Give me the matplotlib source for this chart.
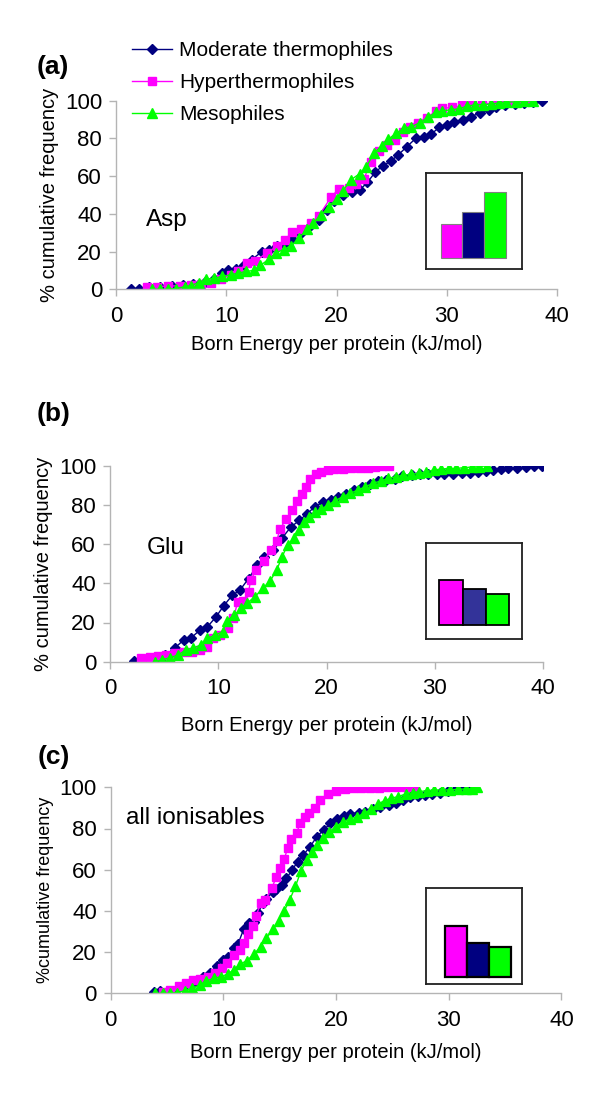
import matplotlib
matplotlib.use('Agg')
import matplotlib.pyplot as plt
import numpy as np

plt.rcParams['font.family'] = ['Liberation Sans', 'DejaVu Sans']

navy = '#000080'
magenta = '#FF00FF'
green = '#00FF00'
gray = '#B4B4B4'

labels = ['Moderate thermophiles', 'Hyperthermophiles', 'Mesophiles']

# ---- panel (a) Asp ----
a_mod_x = [1.4, 2.1, 3.0, 4.0, 5.1, 6.1, 7.0, 8.1, 8.9, 9.6, 10.2, 10.9, 11.6, 12.3, 13.2, 13.9, 14.6, 15.3, 16.0, 16.8,
           17.7, 18.4, 19.1, 19.8, 20.6, 21.4, 22.1, 22.8, 23.5, 24.2, 24.9, 25.6, 26.4, 27.2, 27.9, 28.6, 29.3, 30.0,
           30.7, 31.5, 32.2, 33.0, 33.8, 34.5, 35.3, 36.2, 37.0, 37.8, 38.6]
a_mod_y = [0.4, 0.4, 1.0, 1.4, 2.0, 2.3, 2.9, 4.0, 5.7, 8.6, 10.4, 11.0, 13.0, 15.7, 19.8, 21.0, 23.0, 23.7, 26.8, 30.0,
           34.0, 37.0, 42.0, 47.0, 50.0, 51.8, 52.6, 56.7, 62.0, 65.5, 67.8, 71.3, 75.7, 80.1, 80.7, 82.3, 85.8, 87.2,
           88.6, 89.9, 91.6, 93.4, 95.2, 96.5, 97.5, 98.2, 98.9, 99.5, 100]
a_hyp_x = [2.8, 3.7, 4.7, 5.8, 6.8, 7.7, 8.6, 9.5, 10.4, 11.1, 11.9, 12.6, 13.7, 14.6, 15.3, 16.0, 16.8, 17.7, 18.4, 19.5,
           20.2, 21.1, 21.8, 22.5, 23.1, 23.9, 24.6, 25.3, 26.0, 26.7, 27.4, 28.2, 29.0, 29.6, 30.5, 31.4, 32.3, 33.2,
           34.2, 35.1, 36.0, 36.8, 37.5]
a_hyp_y = [1, 1.4, 1.8, 1.8, 2.3, 3.0, 3.6, 5.4, 7.7, 9.5, 14.0, 14.8, 19.3, 22.9, 26.0, 30.5, 31.8, 35.4, 39.0, 48.8,
           53.2, 53.6, 55.9, 58.6, 67.5, 73.2, 76.4, 79.1, 83.6, 86.3, 88.0, 91.0, 94.3, 96.0, 96.4, 97.5, 98.2, 98.2,
           98.8, 99.3, 99.6, 100, 100]
a_mes_x = [3.3, 4.0, 4.7, 5.4, 6.3, 6.8, 7.5, 8.2, 8.9, 9.6, 10.4, 11.1, 11.8, 12.5, 13.1, 13.9, 14.5, 15.2, 15.9, 16.6,
           17.3, 17.9, 18.6, 19.3, 20.0, 20.6, 21.3, 22.1, 22.7, 23.4, 24.1, 24.7, 25.4, 26.1, 26.8, 27.6, 28.3, 29.0,
           29.6, 30.4, 31.1, 31.8, 32.6, 33.3, 34.0, 34.7, 35.4, 36.3, 37.0, 37.8]
a_mes_y = [0, 0, 0, 0.4, 1.4, 2.0, 3.6, 5.4, 5.9, 6.8, 7.7, 8.6, 9.5, 10.0, 12.7, 16.1, 19.3, 21.1, 23.2, 27.0,
           31.8, 35.4, 39.3, 43.9, 47.9, 52.3, 58.0, 61.3, 64.8, 72.3, 75.9, 79.5, 82.7, 85.4, 86.3, 88.4, 91.3, 93.8,
           94.6, 95.2, 95.7, 97.0, 97.9, 97.9, 98.2, 98.8, 99.3, 99.3, 99.6, 100]
a_inset = [33.3, 45.2, 65.2]

# ---- panel (b) Glu ----
b_mod_x = [2.2, 2.9, 3.6, 4.3, 5.1, 6.0, 6.8, 7.5, 8.3, 9.0, 9.8, 10.5, 11.3, 12.0, 12.8, 13.6, 14.2, 15.1, 15.9, 16.7,
           17.5, 18.2, 18.9, 19.7, 20.4, 21.1, 21.8, 22.5, 23.3, 24.0, 24.8, 25.5, 26.3, 27.0, 27.9, 28.6, 29.4, 30.2,
           30.9, 31.7, 32.5, 33.3, 34.0, 34.7, 35.4, 36.1, 36.8, 37.6, 38.4, 39.2, 39.9]
b_mod_y = [0.5, 0.5, 1.0, 2.0, 3.2, 7.1, 11.0, 12.2, 16.1, 17.8, 22.9, 28.5, 33.9, 36.5, 42.4, 49.2, 53.4, 56.8, 63.1, 68.7,
           72.1, 75.5, 78.9, 81.5, 82.3, 84.0, 85.7, 87.4, 89.1, 90.8, 92.3, 92.6, 93.4, 94.7, 95.0, 95.6, 95.9, 95.9,
           96.0, 96.0, 96.1, 96.3, 96.8, 97.1, 98.0, 98.3, 98.8, 98.8, 99.1, 99.7, 100]
b_hyp_x = [2.9, 3.7, 4.4, 5.2, 6.0, 6.8, 7.6, 8.3, 9.0, 9.5, 10.2, 10.9, 11.4, 11.8, 12.3, 12.8, 13.0, 13.5, 14.2, 14.9,
           15.4, 15.7, 16.3, 16.8, 17.3, 17.7, 18.1, 18.5, 19.0, 19.5, 20.1, 20.7, 21.5, 22.3, 23.1, 23.8, 24.5, 25.1,
           25.8]
b_hyp_y = [1.7, 2.6, 3.1, 3.4, 4.3, 4.8, 4.8, 6.0, 7.7, 11.9, 13.6, 17.3, 22.1, 30.6, 31.0, 35.7, 41.7, 46.8, 51.4, 57.0,
           61.6, 67.7, 73.0, 77.5, 82.0, 85.5, 89.3, 93.2, 95.6, 96.9, 98.0, 98.3, 98.5, 98.6, 98.8, 99.0, 99.5, 100,
           100]
b_mes_x = [4.2, 4.8, 5.5, 6.3, 7.0, 7.7, 8.4, 9.0, 9.7, 10.4, 10.8, 11.5, 12.1, 12.7, 13.4, 14.1, 14.8, 15.4, 15.9, 16.4,
           17.0, 17.5, 17.9, 18.4, 18.9, 19.5, 20.1, 20.8, 21.5, 22.2, 22.9, 23.6, 24.3, 25.0, 25.7, 26.4, 27.1, 27.8,
           28.5, 29.2, 29.9, 30.6, 31.3, 32.0, 32.7, 33.4, 34.1, 34.8]
b_mes_y = [0, 0.9, 2.0, 3.4, 6.0, 7.1, 8.5, 11.9, 13.6, 15.3, 20.9, 23.8, 27.2, 30.1, 33.2, 37.4, 41.2, 46.8, 53.6, 59.5,
           63.0, 67.2, 71.4, 74.0, 76.2, 77.7, 79.9, 82.1, 84.2, 85.9, 87.6, 89.3, 91.0, 92.2, 93.5, 94.4, 95.2, 95.6,
           96.1, 96.9, 97.8, 98.3, 98.6, 98.6, 99.0, 99.3, 99.5, 100]
b_inset = [45.3, 36.0, 31.0]

# ---- panel (c) all ionisables ----
c_mod_x = [3.8, 4.4, 5.1, 5.8, 6.4, 7.2, 7.7, 8.2, 8.8, 9.4, 10.0, 10.4, 10.9, 11.3, 11.8, 12.3, 12.7, 13.1, 13.5, 13.8,
           14.4, 14.7, 15.2, 15.6, 16.1, 16.6, 17.1, 17.7, 18.3, 18.9, 19.5, 20.1, 20.7, 21.2, 22.0, 22.6, 23.3, 23.9,
           24.7, 25.3, 25.9, 26.6, 27.3, 27.9, 28.5, 29.2, 29.9, 30.7, 31.3, 31.9]
c_mod_y = [0.8, 1.1, 1.3, 1.6, 2.9, 4.5, 6.5, 8.1, 10.0, 13.3, 16.2, 17.8, 21.8, 23.9, 31.1, 34.3, 34.8, 39.2, 43.7, 45.6,
           49.4, 50.5, 52.5, 55.8, 59.9, 63.9, 67.2, 71.2, 76.1, 79.3, 82.5, 84.5, 86.1, 87.1, 87.6, 88.2, 89.3, 90.6,
           91.4, 92.6, 93.9, 95.1, 95.8, 96.3, 96.8, 97.4, 98.4, 99.5, 100, 100]
c_hyp_x = [4.6, 5.3, 6.1, 6.7, 7.3, 7.9, 8.6, 9.3, 9.9, 10.3, 10.9, 11.5, 11.8, 12.2, 12.6, 12.9, 13.3, 13.7, 14.3, 14.7,
           15.0, 15.4, 15.7, 16.0, 16.5, 16.8, 17.2, 17.6, 18.1, 18.6, 19.3, 20.0, 20.8, 21.5, 22.2, 23.0, 23.8, 24.6,
           25.4, 26.2, 27.0]
c_hyp_y = [0.8, 1.8, 3.6, 4.9, 6.5, 6.8, 8.1, 10.0, 12.1, 14.9, 18.6, 21.0, 24.6, 28.6, 32.7, 37.5, 43.7, 45.3, 51.0, 56.6,
           60.7, 65.0, 70.5, 75.0, 77.7, 82.5, 85.8, 87.7, 89.8, 93.9, 96.8, 98.4, 99.0, 99.5, 99.6, 99.7, 99.8, 100,
           100, 100, 100]
c_mes_x = [3.9, 4.6, 5.3, 5.9, 6.6, 7.2, 7.9, 8.5, 9.2, 9.8, 10.4, 10.9, 11.5, 12.1, 12.7, 13.3, 13.8, 14.4, 14.9, 15.4,
           15.9, 16.4, 16.9, 17.4, 17.9, 18.3, 18.8, 19.4, 20.0, 20.6, 21.2, 21.9, 22.5, 23.1, 23.7, 24.3, 24.9, 25.5,
           26.2, 26.8, 27.4, 28.1, 28.7, 29.4, 30.1, 30.8, 31.5, 32.1, 32.5]
c_mes_y = [0, 0, 0, 0.3, 1.3, 2.4, 4.0, 6.1, 7.3, 8.1, 9.4, 11.3, 14.2, 15.9, 18.9, 22.7, 26.7, 31.1, 35.3, 40.0,
           45.5, 52.0, 59.5, 64.7, 68.5, 72.0, 75.2, 78.5, 80.9, 83.3, 84.5, 85.8, 87.4, 89.3, 91.9, 93.5, 94.7, 95.5,
           96.8, 97.4, 97.9, 98.4, 98.7, 98.7, 98.7, 99.0, 99.2, 99.4, 100]
c_inset = [51.0, 33.4, 29.4]

W, H = 600, 1101
fig = plt.figure(figsize=(6, 11.01), dpi=100)


def px_axes(x0, x1, y0, y1):
    # pixel box (top-left origin) -> figure axes
    return fig.add_axes([x0 / W, 1 - y1 / H, (x1 - x0) / W, (y1 - y0) / H])


def panel(box, series, name, name_xy, letter, letter_xy, ylab, ylab_size, xpad):
    ax = px_axes(*box)
    styles = [(navy, 'D', 4.6), (magenta, 's', 5.8), (green, '^', 6.8)]
    handles = []
    for (x, y), (col, mk, ms), lab in zip(series, styles, labels):
        h, = ax.plot(x, y, color=col, marker=mk, ms=ms, mec=col, mfc=col, lw=1.0, label=lab)
        handles.append(h)
    ax.set_xlim(0, 40)
    ax.set_ylim(0, 100)
    ax.set_xticks([0, 10, 20, 30, 40])
    ax.set_yticks([0, 20, 40, 60, 80, 100])
    for s in ['top', 'right']:
        ax.spines[s].set_visible(False)
    for s in ['left', 'bottom']:
        ax.spines[s].set_color(gray)
        ax.spines[s].set_linewidth(1.0)
    ax.tick_params(colors=gray, labelcolor='black', labelsize=16, length=5, width=1.0)
    ax.tick_params(axis='x', pad=7)
    ax.tick_params(axis='y', pad=5)
    ax.set_xlabel('Born Energy per protein (kJ/mol)', fontsize=14.5, labelpad=xpad)
    ax.set_ylabel(ylab, fontsize=ylab_size, labelpad=4)
    ax.text(name_xy[0], name_xy[1], name, fontsize=17.5, ha='left', va='baseline')
    fig.text(letter_xy[0] / W, 1 - letter_xy[1] / H, letter, fontsize=19, fontweight='bold',
             ha='center', va='center')
    ax.patch.set_alpha(0)
    return ax, handles


def inset(box, bar_x0, bar_w, bar_bottom, vals, cols, ec, lw):
    x0, x1, y0, y1 = box
    ax = px_axes(x0, x1, y0, y1)
    ax.bar([0, 1, 2], vals, width=1, align='edge', color=cols, edgecolor=ec, linewidth=lw)
    ax.set_xlim(-(bar_x0 - x0) / bar_w, (x1 - bar_x0) / bar_w)
    ax.set_ylim(-(y1 - bar_bottom), bar_bottom - y0)
    ax.set_xticks([])
    ax.set_yticks([])
    for s in ax.spines.values():
        s.set_color('#202020')
        s.set_linewidth(1.3)


axa, hs = panel((116, 557, 100.7, 289.3), [(a_mod_x, a_mod_y), (a_hyp_x, a_hyp_y), (a_mes_x, a_mes_y)],
                'Asp', (2.7, 33.6), '(a)', (53, 67), '% cumulative frequency', 14.5, 6)
axb, _ = panel((110, 543, 465.7, 661.7), [(b_mod_x, b_mod_y), (b_hyp_x, b_hyp_y), (b_mes_x, b_mes_y)],
               'Glu', (3.4, 54.8), '(b)', (54, 414), '% cumulative frequency', 14.5, 12)
axc, _ = panel((110.7, 561.4, 787.3, 993.3), [(c_mod_x, c_mod_y), (c_hyp_x, c_hyp_y), (c_mes_x, c_mes_y)],
               'all ionisables', (1.4, 82.0), '(c)', (54, 757), '%cumulative frequency', 13, 9)

fig.legend(handles=hs, loc='upper left', bbox_to_anchor=(132 / W, 1 - 41 / H), frameon=False,
           fontsize=15, handlelength=1.9, handletextpad=0.35, labelspacing=0.62,
           borderpad=0, borderaxespad=0, markerscale=1.1)

inset((426, 522, 173.3, 268.5), 440.5, 21.7, 257.5, a_inset, [magenta, navy, green], '#808080', 0.8)
inset((426, 522, 543.3, 639), 439.3, 23.2, 625.3, b_inset, [magenta, '#333399', green], 'black', 1.3)
inset((426, 522, 888.3, 984), 444.5, 22.3, 976.7, c_inset, [magenta, navy, green], 'black', 1.6)

fig.savefig('out.png', dpi=100)
